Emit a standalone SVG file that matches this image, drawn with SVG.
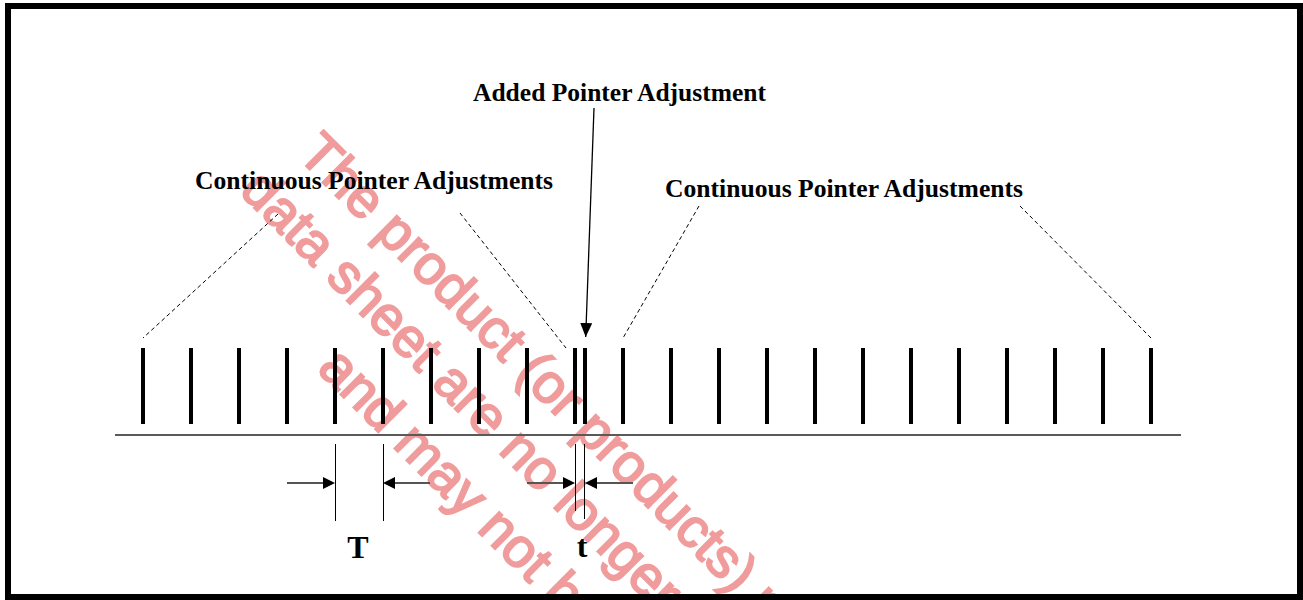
<svg xmlns="http://www.w3.org/2000/svg" width="1303" height="600" viewBox="0 0 1303 600">
  <style>
    .lbl { font-family: "Liberation Serif", "Times New Roman", serif; font-weight: bold; fill: #000; }
    .wm { font-family: "Liberation Sans", Arial, sans-serif; font-size: 55px; fill: #f09c9c; stroke: #f09c9c; stroke-width: 2; }
    .bar { stroke: #000; stroke-width: 4; }
    .ext { stroke: #000; stroke-width: 1; }
    .dim { stroke: #555; stroke-width: 2; }
    .dash { stroke: #000; stroke-width: 1; stroke-dasharray: 4 3; fill: none; }
    .ah { fill: #000; }
  </style>
  <defs>
    <marker id="arr" markerUnits="userSpaceOnUse" markerWidth="14" markerHeight="12" refX="14" refY="6" orient="auto">
      <path d="M0,0 L14,6 L0,12 Z" fill="#000"/>
    </marker>
    <clipPath id="inner"><rect x="11" y="9" width="1286" height="585"/></clipPath>
  </defs>
  <rect x="0" y="0" width="1303" height="600" fill="#fff"/>

  <g id="watermark" clip-path="url(#inner)">
    <text class="wm" transform="translate(296 156) rotate(45)">The product (or products) n</text>
    <text class="wm" transform="translate(238 192) rotate(45)">data sheet are no longer l</text>
    <text class="wm" transform="translate(316 370) rotate(45)">and may not be</text>
  </g>

  <g id="frame">
    <rect x="8" y="6" width="1292" height="591" fill="none" stroke="#000" stroke-width="6"/>
  </g>

  <g id="label-added">
    <text class="lbl" x="473" y="100.5" font-size="25" textLength="293" lengthAdjust="spacingAndGlyphs">Added Pointer Adjustment</text>
  </g>
  <g id="label-continuous-left">
    <text class="lbl" x="195" y="188.5" font-size="25" textLength="358" lengthAdjust="spacingAndGlyphs">Continuous Pointer Adjustments</text>
  </g>
  <g id="label-continuous-right">
    <text class="lbl" x="665" y="197" font-size="25" textLength="358" lengthAdjust="spacingAndGlyphs">Continuous Pointer Adjustments</text>
  </g>

  <g id="pulses">
    <line class="bar" x1="143" y1="348" x2="143" y2="424"/>
    <line class="bar" x1="191" y1="348" x2="191" y2="424"/>
    <line class="bar" x1="239" y1="348" x2="239" y2="424"/>
    <line class="bar" x1="287" y1="348" x2="287" y2="424"/>
    <line class="bar" x1="335" y1="348" x2="335" y2="424"/>
    <line class="bar" x1="383" y1="348" x2="383" y2="424"/>
    <line class="bar" x1="431" y1="348" x2="431" y2="424"/>
    <line class="bar" x1="479" y1="348" x2="479" y2="424"/>
    <line class="bar" x1="527" y1="348" x2="527" y2="424"/>
    <line class="bar" x1="575" y1="348" x2="575" y2="424"/>
    <line class="bar" x1="585" y1="348" x2="585" y2="424"/>
    <line class="bar" x1="623" y1="348" x2="623" y2="424"/>
    <line class="bar" x1="671" y1="348" x2="671" y2="424"/>
    <line class="bar" x1="719" y1="348" x2="719" y2="424"/>
    <line class="bar" x1="767" y1="348" x2="767" y2="424"/>
    <line class="bar" x1="815" y1="348" x2="815" y2="424"/>
    <line class="bar" x1="863" y1="348" x2="863" y2="424"/>
    <line class="bar" x1="911" y1="348" x2="911" y2="424"/>
    <line class="bar" x1="959" y1="348" x2="959" y2="424"/>
    <line class="bar" x1="1007" y1="348" x2="1007" y2="424"/>
    <line class="bar" x1="1055" y1="348" x2="1055" y2="424"/>
    <line class="bar" x1="1103" y1="348" x2="1103" y2="424"/>
    <line class="bar" x1="1151" y1="348" x2="1151" y2="424"/>
  </g>

  <g id="axis">
    <line x1="115" y1="435" x2="1181" y2="435" stroke="#5a5a5a" stroke-width="2"/>
  </g>

  <g id="dimension-T">
    <line class="ext" x1="335.5" y1="444" x2="335.5" y2="521"/>
    <line class="ext" x1="383.5" y1="444" x2="383.5" y2="521"/>
    <line class="dim" x1="287" y1="483" x2="324" y2="483"/>
    <path class="ah" d="M323,477 L335,483 L323,489 Z"/>
    <line class="dim" x1="394" y1="483" x2="430" y2="483"/>
    <path class="ah" d="M395,477 L383,483 L395,489 Z"/>
    <text class="lbl" x="358" y="558" font-size="32" text-anchor="middle">T</text>
  </g>

  <g id="dimension-t">
    <line class="ext" x1="575.5" y1="444" x2="575.5" y2="511"/>
    <line class="ext" x1="584.5" y1="444" x2="584.5" y2="519"/>
    <line class="dim" x1="527" y1="483" x2="564" y2="483"/>
    <path class="ah" d="M563,477 L575,483 L563,489 Z"/>
    <line class="dim" x1="596" y1="483" x2="633" y2="483"/>
    <path class="ah" d="M597,477 L585,483 L597,489 Z"/>
    <text class="lbl" x="582" y="557" font-size="32" text-anchor="middle">t</text>
  </g>

  <g id="connectors">
    <line class="dash" x1="278" y1="214" x2="143" y2="338"/>
    <line class="dash" x1="460" y1="213" x2="566" y2="348"/>
    <line class="dash" x1="699" y1="206" x2="623" y2="338"/>
    <line class="dash" x1="1020" y1="206" x2="1151" y2="338"/>
    <line x1="594" y1="108" x2="585.7" y2="337" stroke="#000" stroke-width="1.3" marker-end="url(#arr)"/>
  </g>
</svg>
